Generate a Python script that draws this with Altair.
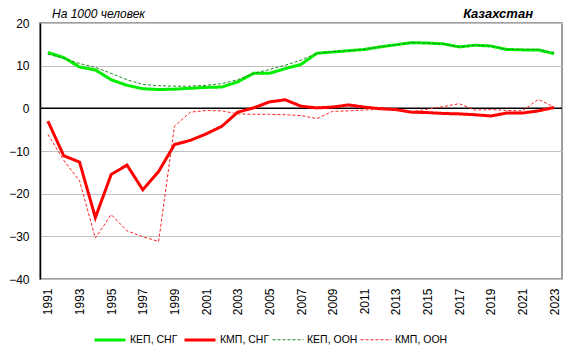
import altair as alt
import pandas as pd

years = list(range(1991, 2024))
kep_sng = [13.1, 11.9, 9.7, 9.0, 6.7, 5.4, 4.6, 4.4, 4.5, 4.7, 4.9, 5.0, 6.2, 8.2, 8.2, 9.3, 10.3,
           12.9, 13.2, 13.5, 13.8, 14.4, 14.9, 15.4, 15.3, 15.1, 14.4, 14.8, 14.6, 13.8, 13.7, 13.7, 12.8]
kmp_sng = [-3.0, -11.1, -12.6, -25.6, -15.5, -13.3, -19.1, -14.8, -8.5, -7.5, -6.0, -4.2, -0.9, 0.1,
           1.5, 2.0, 0.5, 0.1, 0.3, 0.8, 0.3, -0.1, -0.3, -0.9, -1.0, -1.2, -1.3, -1.5, -1.8, -1.1,
           -1.1, -0.6, 0.2]
kep_oon = [12.7, 11.7, 10.5, 9.6, 8.2, 6.7, 5.6, 5.3, 5.2, 5.2, 5.4, 5.8, 6.7, 8.2, 9.1, 10.1, 11.3,
           12.9, 13.3, 13.5, 13.8, 14.4, 14.9, 15.4, 15.3, 15.1, 14.4, 14.8, 14.6, 13.8, 13.8, 13.8, 13.1]
kmp_oon = [-6.1, -12.2, -17.0, -30.4, -24.9, -28.7, -30.1, -31.2, -4.2, -0.9, -0.5, -0.6, -1.3, -1.4,
           -1.4, -1.5, -1.7, -2.4, -0.7, -0.6, -0.4, -0.2, -0.4, -0.8, -0.2, 0.4, 1.1, -0.4, -0.3,
           -0.5, -0.6, 2.1, 0.3]

series_names = ["КЕП, СНГ", "КМП, СНГ", "КЕП, ООН", "КМП, ООН"]
series_values = [kep_sng, kmp_sng, kep_oon, kmp_oon]
series_colors = ["#00EE00", "#FF0000", "#1E8C1E", "#FF2020"]
series_dash = [[1, 0], [1, 0], [3, 2], [3, 2]]
series_width = [3, 3, 1, 1]
x_ticks = list(range(1991, 2024, 2))

rows = []
for name, vals in zip(series_names, series_values):
    for yr, v in zip(years, vals):
        rows.append({"year": yr, "value": v, "series": name,
                     "solid": name.endswith("СНГ")})
df = pd.DataFrame(rows)

FONT = "Liberation Sans"

x_enc = alt.X("year:Q", scale=alt.Scale(domain=[1990.5, 2023.5], nice=False, zero=False),
              axis=alt.Axis(values=x_ticks, format="d", labelAngle=-90, labelAlign="right",
                            labelBaseline="middle", labelPadding=9, ticks=False, domain=False,
                            grid=False, title=None, labelFontSize=12, labelFont=FONT,
                            labelColor="black", labelOverlap=False))
y_enc = alt.Y("value:Q", scale=alt.Scale(domain=[-40, 20], nice=False),
              axis=alt.Axis(values=[-40, -30, -20, -10, 0, 10, 20], grid=True, gridColor="#C0C0C0",
                            gridWidth=1, ticks=False, domain=True, domainColor="black",
                            domainWidth=1.5, labelPadding=11, title=None, labelFontSize=12,
                            labelFont=FONT, labelColor="black"))

legend = alt.Legend(title=None, orient="none", legendX=53, legendY=300, direction="horizontal",
                    symbolType="stroke", symbolSize=961, labelFontSize=10.5, labelFont=FONT,
                    labelColor="black", labelOffset=3, columnPadding=0, padding=0,
                    symbolOpacity=1)

color = alt.Color("series:N", scale=alt.Scale(domain=series_names, range=series_colors), legend=legend)
dash = alt.StrokeDash("series:N", scale=alt.Scale(domain=series_names, range=series_dash), legend=legend)
width = alt.StrokeWidth("series:N", scale=alt.Scale(type="ordinal", domain=series_names, range=series_width),
                        legend=legend)

base = alt.Chart(df)
zero = alt.Chart(pd.DataFrame({"value": [0]})).mark_rule(color="black", strokeWidth=1.5).encode(y=alt.Y("value:Q"))

solid = base.transform_filter("datum.solid").mark_line().encode(
    x=x_enc, y=y_enc, color=color, strokeDash=dash, strokeWidth=width, detail="series:N")
dashed = base.transform_filter("!datum.solid").mark_line().encode(
    x=x_enc, y=y_enc, color=color, strokeDash=dash, strokeWidth=width, detail="series:N")

t_left = alt.Chart(pd.DataFrame({"t": ["На 1000 человек"]})).mark_text(
    font=FONT, fontSize=12, fontStyle="italic", align="left", baseline="alphabetic", color="black"
).encode(text="t:N", x=alt.value(12), y=alt.value(-5))
t_right = alt.Chart(pd.DataFrame({"t": ["Казахстан"]})).mark_text(
    font=FONT, fontSize=13, fontStyle="italic", fontWeight="bold", align="right",
    baseline="alphabetic", color="black"
).encode(text="t:N", x=alt.value(493), y=alt.value(-5))

chart = alt.layer(zero, solid, dashed, t_left, t_right).properties(
    width=522, height=256, autosize="none",
    padding={"left": 40, "top": 23, "right": 16, "bottom": 75},
    background="white"
).configure_view(stroke="#808080", strokeWidth=1.5)

chart.save("out.html", embed_options={"renderer": "svg", "actions": False})
